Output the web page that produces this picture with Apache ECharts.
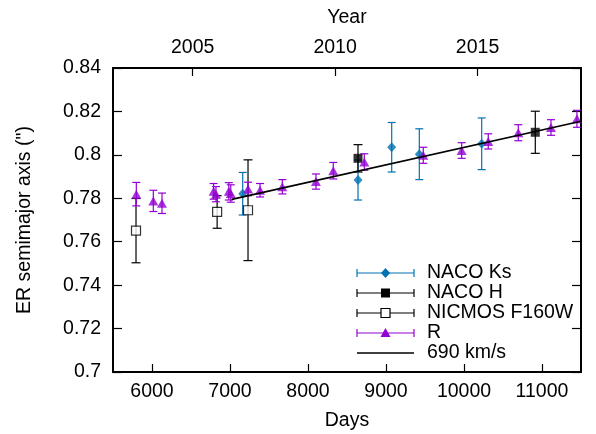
<!DOCTYPE html>
<html>
<head>
<meta charset="utf-8">
<script src="https://cdn.jsdelivr.net/npm/echarts@6/dist/echarts.min.js"></script>
<style>html,body{margin:0;padding:0;background:#fff}#c{width:596px;height:434px}</style>
</head>
<body>
<div id="c"></div>
<script>
// ---- data (days since SN 1987A, ER semimajor axis in arcsec) ----
const nacoKsDays = [7163, 8641, 9073, 9427, 10227];
const nacoKsVal  = [0.7821, 0.7884, 0.8035, 0.8003, 0.8051];
const nacoKsErr  = [0.0098, 0.0092, 0.0114, 0.0117, 0.0119];

const nacoHDays = [8641, 10914];
const nacoHVal  = [0.7984, 0.8104];
const nacoHErr  = [0.0063, 0.0097];

const nicmosDays = [5795, 6835, 7231];
const nicmosVal  = [0.7651, 0.7737, 0.7745];
const nicmosErr  = [0.0148, 0.0075, 0.0232];

const rDays = [5799, 6017, 6128, 6790, 6820, 6985, 7010, 7231, 7385, 7671, 8102, 8324, 8722, 9478, 9970, 10311, 10696, 11115, 11448];
const rVal  = [0.7819, 0.7788, 0.7777, 0.7832, 0.7819, 0.7832, 0.7822, 0.7843, 0.7837, 0.7853, 0.7877, 0.7927, 0.7967, 0.7998, 0.8020, 0.8062, 0.8102, 0.8126, 0.8166];
const rErr  = [0.0054, 0.0049, 0.0047, 0.0036, 0.0035, 0.0040, 0.0040, 0.0031, 0.0031, 0.0033, 0.0035, 0.0038, 0.0038, 0.0037, 0.0036, 0.0035, 0.0037, 0.0036, 0.0039];

const fitDays = [7022, 11500];
const fitVal  = [0.7795, 0.8155];

const xTicks = [6000, 7000, 8000, 9000, 10000, 11000];
const yTicks = [0.7, 0.72, 0.74, 0.76, 0.78, 0.8, 0.82, 0.84];
const yearTicks = [2005, 2010, 2015];
const epochYear = 1987.146;  // SN 1987A explosion
const legendNames = ['NACO Ks', 'NACO H', 'NICMOS F160W', 'R', '690 km/s'];

// ---- build ----
const FONT = "'Liberation Sans', Arial, Helvetica, sans-serif";
const FS = 19.5;
const C_KS = '#0072b2', C_H = '#000000', C_NIC = '#000000', C_R = '#9400d3';
const yearDays = yearTicks.map(y => (y - epochYear) * 365.25);

function pts(d, v) { return d.map((x, i) => [x, v[i]]); }
function errs(d, v, e) { return d.map((x, i) => [x, v[i], v[i] - e[i], v[i] + e[i]]); }

function errRender(color, cap) {
  return function (params, api) {
    const x = api.value(0), lo = api.value(2), hi = api.value(3);
    const a = api.coord([x, lo]), b = api.coord([x, hi]);
    const st = { stroke: color, lineWidth: 1.2 };
    return { type: 'group', children: [
      { type: 'line', shape: { x1: a[0], y1: a[1], x2: b[0], y2: b[1] }, style: st },
      { type: 'line', shape: { x1: a[0] - cap, y1: a[1], x2: a[0] + cap, y2: a[1] }, style: st },
      { type: 'line', shape: { x1: b[0] - cap, y1: b[1], x2: b[0] + cap, y2: b[1] }, style: st }
    ]};
  };
}

function errSeries(d, v, e, color, cap) {
  return { type: 'custom', xAxisIndex: 0, yAxisIndex: 0, renderItem: errRender(color, cap),
           data: errs(d, v, e), encode: { x: 0, y: [1, 2, 3] }, silent: true, z: 3 };
}
function ptSeries(name, d, v, symbol, size, color, extra) {
  return Object.assign({ name, type: 'scatter', xAxisIndex: 0, yAxisIndex: 0, data: pts(d, v),
           symbol, symbolSize: size, itemStyle: { color }, silent: true, z: 3 }, extra || {});
}

// legend (drawn in error-bar style)
const legX0 = 357, legX1 = 414, legTextX = 427, legY0 = 273, legDY = 20;
const legStyles = [
  { color: C_KS, sym: 'diamond' },
  { color: C_H, sym: 'rect' },
  { color: C_NIC, sym: 'emptyRect' },
  { color: C_R, sym: 'triangle' },
  { color: '#000', sym: null }
];
const graphics = [];
legendNames.forEach((nm, i) => {
  const y = legY0 + i * legDY, s = legStyles[i];
  const st = { stroke: s.color, lineWidth: 1.2 };
  graphics.push({ type: 'line', shape: { x1: legX0, y1: y, x2: legX1, y2: y }, style: st });
  if (s.sym) {
    graphics.push({ type: 'line', shape: { x1: legX0, y1: y - 4, x2: legX0, y2: y + 4 }, style: st });
    graphics.push({ type: 'line', shape: { x1: legX1, y1: y - 4, x2: legX1, y2: y + 4 }, style: st });
    const cx = (legX0 + legX1) / 2;
    if (s.sym === 'diamond') graphics.push({ type: 'polygon', shape: { points: [[cx, y - 5], [cx + 4.5, y], [cx, y + 5], [cx - 4.5, y]] }, style: { fill: s.color } });
    if (s.sym === 'rect') graphics.push({ type: 'rect', shape: { x: cx - 4.5, y: y - 4.5, width: 9, height: 9 }, style: { fill: s.color } });
    if (s.sym === 'emptyRect') graphics.push({ type: 'rect', shape: { x: cx - 4.5, y: y - 4.5, width: 9, height: 9 }, style: { fill: '#fff', stroke: s.color, lineWidth: 1.2 } });
    if (s.sym === 'triangle') graphics.push({ type: 'polygon', shape: { points: [[cx, y - 5], [cx + 5, y + 4], [cx - 5, y + 4]] }, style: { fill: s.color } });
  } else {
    st.lineWidth = 1.6;
  }
  graphics.push({ type: 'text', x: legTextX, y: y, style: { text: nm, font: FS + 'px ' + FONT, fill: '#000', verticalAlign: 'middle', align: 'left' } });
});

const chart = echarts.init(document.getElementById('c'), null, { renderer: 'canvas' });
const axisLabelStyle = { color: '#000', fontSize: FS, fontFamily: FONT };
chart.setOption({
  animation: false,
  backgroundColor: '#fff',
  textStyle: { fontFamily: FONT },
  grid: { left: 113, right: 15, top: 68, bottom: 62, containLabel: false, outerBoundsMode: 'none' },
  xAxis: [
    { type: 'value', position: 'bottom', min: 5500, max: 11500,
      name: 'Days', nameLocation: 'middle', nameGap: 39,
      nameTextStyle: { color: '#000', fontSize: FS, fontFamily: FONT },
      axisLine: { show: true, onZero: false, lineStyle: { color: '#000', width: 2 } },
      axisTick: { show: true, inside: true, length: 8, customValues: xTicks, lineStyle: { color: '#000', width: 1.2 } },
      axisLabel: Object.assign({ margin: 10, customValues: xTicks, formatter: v => String(Math.round(v)) }, axisLabelStyle),
      splitLine: { show: false } },
    { type: 'value', position: 'top', min: 5500, max: 11500,
      name: 'Year', nameLocation: 'middle', nameGap: 40,
      nameTextStyle: { color: '#000', fontSize: FS, fontFamily: FONT },
      axisLine: { show: true, onZero: false, lineStyle: { color: '#000', width: 2 } },
      axisTick: { show: true, inside: true, length: 8, customValues: yearDays, lineStyle: { color: '#000', width: 1.2 } },
      axisLabel: Object.assign({ margin: 10, customValues: yearDays, formatter: v => String(Math.round(v / 365.25 + epochYear)) }, axisLabelStyle),
      splitLine: { show: false } }
  ],
  yAxis: [
    { type: 'value', position: 'left', min: 0.7, max: 0.84,
      name: 'ER semimajor axis (")', nameLocation: 'middle', nameGap: 78, nameRotate: 90,
      nameTextStyle: { color: '#000', fontSize: FS, fontFamily: FONT },
      axisLine: { show: true, onZero: false, lineStyle: { color: '#000', width: 2 } },
      axisTick: { show: true, inside: true, length: 9, customValues: yTicks, lineStyle: { color: '#000', width: 1.2 } },
      axisLabel: Object.assign({ margin: 12, customValues: yTicks, formatter: v => String(+v.toFixed(2)) }, axisLabelStyle),
      splitLine: { show: false } },
    { type: 'value', position: 'right', min: 0.7, max: 0.84,
      axisLine: { show: true, onZero: false, lineStyle: { color: '#000', width: 2 } },
      axisTick: { show: true, inside: true, length: 9, customValues: yTicks, lineStyle: { color: '#000', width: 1.2 } },
      axisLabel: { show: false },
      splitLine: { show: false } }
  ],
  series: [
    errSeries(nacoKsDays, nacoKsVal, nacoKsErr, C_KS, 4),
    ptSeries('NACO Ks', nacoKsDays, nacoKsVal, 'diamond', [9, 10], C_KS),
    errSeries(nacoHDays, nacoHVal, nacoHErr, C_H, 4.5),
    ptSeries('NACO H', nacoHDays, nacoHVal, 'rect', 9, C_H),
    errSeries(nicmosDays, nicmosVal, nicmosErr, C_NIC, 4.5),
    ptSeries('NICMOS F160W', nicmosDays, nicmosVal, 'rect', 9, '#fff', { itemStyle: { color: '#fff', borderColor: C_NIC, borderWidth: 1.2 } }),
    errSeries(rDays, rVal, rErr, C_R, 4),
    ptSeries('R', rDays, rVal, 'triangle', [10, 9], C_R),
    { name: '690 km/s', type: 'line', xAxisIndex: 0, yAxisIndex: 0, data: pts(fitDays, fitVal), showSymbol: false, symbol: 'none',
      lineStyle: { color: '#000', width: 1.6 }, silent: true, z: 4 }
  ],
  graphic: graphics
});
</script>
</body>
</html>
